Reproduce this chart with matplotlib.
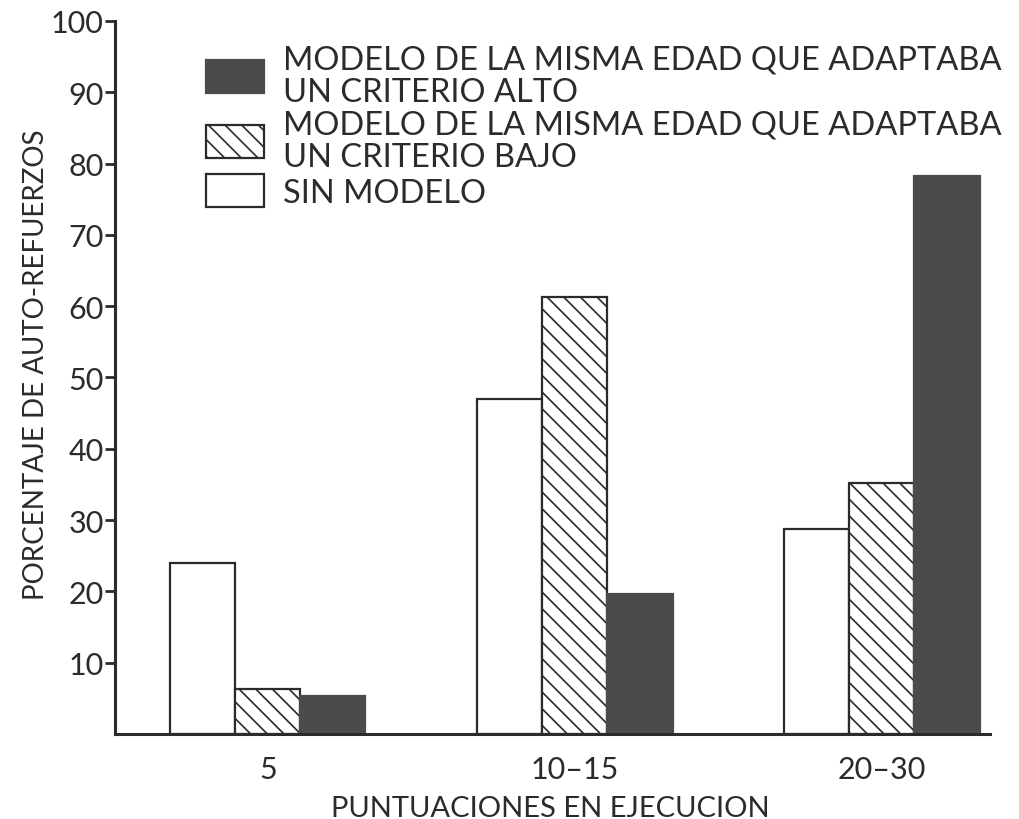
import matplotlib.pyplot as plt
from matplotlib.patches import Patch
import numpy as np

# data
categories = ["5", "10–15", "20–30"]
sin_modelo = [24, 47, 28.7]
criterio_bajo = [6.3, 61.3, 35.2]
criterio_alto = [5.3, 19.6, 78.2]

legend_labels = ["MODELO DE LA MISMA EDAD QUE ADAPTABA\nUN CRITERIO ALTO",
                 "MODELO DE LA MISMA EDAD QUE ADAPTABA\nUN CRITERIO BAJO",
                 "SIN MODELO"]
y_ticks = [10, 20, 30, 40, 50, 60, 70, 80, 90, 100]

plt.rcParams['font.family'] = ['Lato', 'DejaVu Sans']
plt.rcParams['hatch.linewidth'] = 1.2
plt.rcParams['hatch.color'] = '#2b2b2b'

ink = '#2b2b2b'
dark = '#4b4b4b'

fig = plt.figure(figsize=(10.2, 8.2), dpi=100)
ax = fig.add_axes([0.1127, 0.1037, 0.8579, 0.8695])

x = np.arange(len(categories))
w = 0.212
ax.bar(x - w, sin_modelo, w, color='white', edgecolor=ink, linewidth=1.6)
ax.bar(x, criterio_bajo, w, color='white', edgecolor=ink, hatch='\\\\', linewidth=1.6)
ax.bar(x + w, criterio_alto, w, color=dark, edgecolor=dark, linewidth=1.6)

ax.set_xlim(-0.498, 2.352)
ax.set_ylim(0, 100)
ax.set_yticks(y_ticks)
ax.set_yticklabels([str(v) for v in y_ticks], fontsize=22, color=ink)
ax.set_xticks(x)
ax.set_xticklabels(categories, fontsize=22, color=ink)
ax.tick_params(axis='y', direction='out', length=7, width=2, pad=1, colors=ink)
ax.tick_params(axis='x', length=0, pad=15)

for s in ['top', 'right']:
    ax.spines[s].set_visible(False)
for s in ['left', 'bottom']:
    ax.spines[s].set_linewidth(2.2)
    ax.spines[s].set_color(ink)

ax.set_ylabel("PORCENTAJE DE AUTO-REFUERZOS", fontsize=20, color=ink)
ax.yaxis.set_label_coords(-0.075, 0.519)
ax.set_xlabel("PUNTUACIONES EN EJECUCION", fontsize=21, color=ink)
ax.xaxis.set_label_coords(0.497, -0.085)

handles = [Patch(facecolor=dark, edgecolor=dark, linewidth=1.6),
           Patch(facecolor='white', edgecolor=ink, hatch='\\\\', linewidth=1.6),
           Patch(facecolor='white', edgecolor=ink, linewidth=1.6)]
leg = ax.legend(handles, legend_labels, loc='upper left', bbox_to_anchor=(0.085, 0.99),
                frameon=False, fontsize=23.5, handlelength=1.78, handleheight=1.17,
                handletextpad=0.6, labelspacing=0.08, borderpad=0)
for t in leg.get_texts():
    t.set_color(ink)
    t.set_linespacing(1.1)

fig.savefig('out.png', dpi=100)
